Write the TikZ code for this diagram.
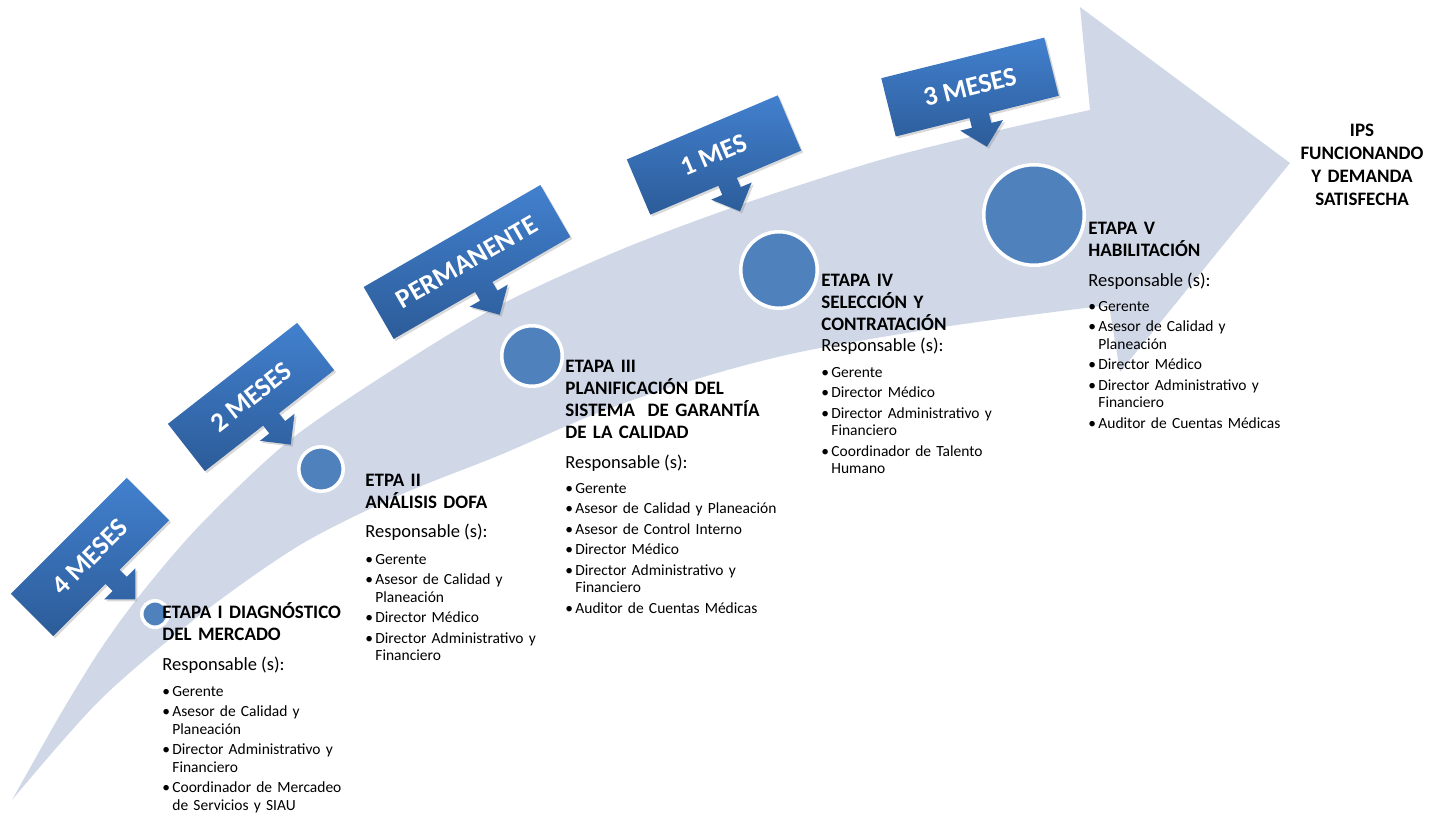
\documentclass[tikz,border=0pt]{standalone}
\usepackage{fontspec}
\setmainfont{Carlito}
\usetikzlibrary{shadows}

\definecolor{bandblue}{RGB}{208,216,232}
\definecolor{stageblue}{RGB}{79,129,189}
\definecolor{boxlight}{RGB}{66,128,206}
\definecolor{boxdark}{RGB}{44,92,153}

\newcommand{\bitem}{\makebox[5pt][l]{\textbullet}}
\newcommand{\bcont}{\hspace*{5pt}}

\tikzset{
  band/.style={fill=bandblue},
  stage/.style={circle, fill=stageblue, draw=white, line width=1.75pt, inner sep=0pt},
  timebox/.style={top color=boxlight, middle color=boxdark!85!boxlight, bottom color=boxdark, drop shadow={opacity=.3, shadow xshift=1pt, shadow yshift=-1pt}},
  timetext/.style={text=white, font=\fontsize{13.5}{16}\selectfont\bfseries, inner sep=0pt},
  stagehead/.style={anchor=base west, inner sep=0pt, text width=130pt, align=left, font=\fontsize{9.5}{11}\selectfont\bfseries},
  resp/.style={anchor=base west, inner sep=0pt, font=\fontsize{9.25}{11}\selectfont},
  tasks/.style={anchor=base west, inner sep=0pt, text width=130pt, align=left, font=\fontsize{7.75}{8.75}\selectfont},
}

\begin{document}
\begin{tikzpicture}[x=0.5pt, y=0.5pt, line cap=round, line join=round]
  \useasboundingbox (0,0) rectangle (1429,-814);

  % curved arrow
  \fill[band] plot[smooth] coordinates {(12,-800) (60,-715) (100,-650) (140,-595) (200,-525) (290,-440) (400,-365) (500,-305) (620,-250) (740,-205) (880,-160) (1000,-130) (1090,-110)}
    -- (1080,-7) -- (1290,-163) -- (1120,-372) -- (1109,-305)
    -- plot[smooth] coordinates {(1109,-305) (950,-326) (800,-352) (700,-378) (600,-412) (500,-455) (400,-495) (300,-545) (200,-615) (100,-700) (12,-800)} -- cycle;

  % time callouts
  \foreach \nm/\cx/\cy/\ang/\hw/\txt in {m4/90/-557/45/82/4 MESES, m2/251/-397/38/82/2 MESES, perm/467/-262/30/102/PERMANENTE, m1/714/-155/23/82/1 MES, m3/970/-87/14/84/3 MESES} {
    \begin{scope}[shift={(\cx,\cy)}, rotate=\ang]
      \path[timebox] (-\hw,30) -- (\hw,30) -- (\hw,-30) -- (12,-30) -- (12,-40) -- (24,-40) -- (2,-62) -- (-20,-40) -- (-8,-40) -- (-8,-30) -- (-\hw,-30) -- cycle;
      \node[timetext, rotate=\ang] (\nm) at (0,0) {\txt};
    \end{scope}
  }

  % stages
  \foreach \nm/\cx/\cy/\r in {c1/155/-614/15, c2/321/-469/24, c3/532/-356/32, c4/779/-270/40, c5/1034/-215/52}
    \node[stage, minimum size={(\r-1.75)*1pt}] (\nm) at (\cx,\cy) {};

  \node[stagehead] (h1) at (162,-618) {ETAPA I DIAGNÓSTICO\\DEL MERCADO};
  \node[resp] (r1) at (162,-670) {Responsable (s):};
  \node[tasks] (l1) at (162,-696) {\bitem Gerente\\[1.5pt]
    \bitem Asesor de Calidad y\\ \bcont Planeación\\[1.5pt]
    \bitem Director Administrativo y\\ \bcont Financiero\\[1.5pt]
    \bitem Coordinador de Mercadeo\\ \bcont de Servicios y SIAU};

  \node[stagehead] (h2) at (365,-486) {ETPA II\\ANÁLISIS DOFA};
  \node[resp] (r2) at (365,-537) {Responsable (s):};
  \node[tasks] (l2) at (365,-564) {\bitem Gerente\\[1.5pt]
    \bitem Asesor de Calidad y\\ \bcont Planeación\\[1.5pt]
    \bitem Director Médico\\[1.5pt]
    \bitem Director Administrativo y\\ \bcont Financiero};

  \node[stagehead] (h3) at (565,-372) {ETAPA III\\PLANIFICACIÓN DEL\\SISTEMA\ \ DE GARANTÍA\\DE LA CALIDAD};
  \node[resp] (r3) at (565,-468) {Responsable (s):};
  \node[tasks] (l3) at (565,-493) {\bitem Gerente\\[1.5pt]
    \bitem Asesor de Calidad y Planeación\\[1.5pt]
    \bitem Asesor de Control Interno\\[1.5pt]
    \bitem Director Médico\\[1.5pt]
    \bitem Director Administrativo y\\ \bcont Financiero\\[1.5pt]
    \bitem Auditor de Cuentas Médicas};

  \node[stagehead] (h4) at (821,-286) {ETAPA IV\\SELECCIÓN Y\\CONTRATACIÓN};
  \node[resp] (r4) at (821,-351) {Responsable (s):};
  \node[tasks] (l4) at (821,-377) {\bitem Gerente\\[1.5pt]
    \bitem Director Médico\\[1.5pt]
    \bitem Director Administrativo y\\ \bcont Financiero\\[1.5pt]
    \bitem Coordinador de Talento\\ \bcont Humano};

  \node[stagehead] (h5) at (1088,-234) {ETAPA V\\HABILITACIÓN};
  \node[resp] (r5) at (1088,-286) {Responsable (s):};
  \node[tasks] (l5) at (1088,-311) {\bitem Gerente\\[1.5pt]
    \bitem Asesor de Calidad y\\ \bcont Planeación\\[1.5pt]
    \bitem Director Médico\\[1.5pt]
    \bitem Director Administrativo y\\ \bcont Financiero\\[1.5pt]
    \bitem Auditor de Cuentas Médicas};

  \node[stagehead, anchor=base, align=center, text width=75pt, font=\fontsize{9.5}{11.5}\selectfont\bfseries] (ips) at (1362,-136) {IPS\\FUNCIONANDO\\Y DEMANDA\\SATISFECHA};
\end{tikzpicture}
\end{document}
